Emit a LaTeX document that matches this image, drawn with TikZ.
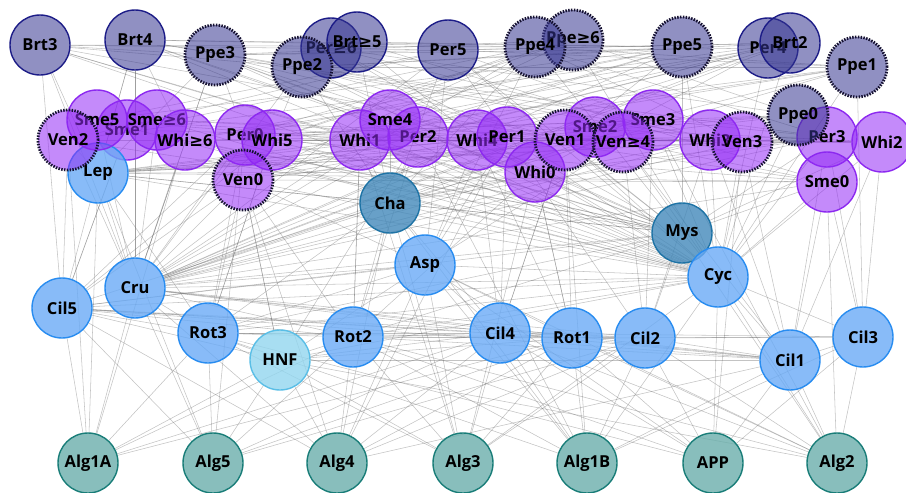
\documentclass[tikz,border=0pt]{standalone}
\usepackage{fontspec}
\setmainfont{Open Sans}
\newfontfamily\symf{DejaVu Sans}
\newcommand\gsym{{\symf ≥}}
\pgfdeclarelayer{bg}
\pgfsetlayers{bg,main}
\definecolor{navyB}{RGB}{28,28,135}
\definecolor{navyF}{RGB}{53,53,144}
\definecolor{purB}{RGB}{140,40,240}
\definecolor{purF}{RGB}{147,42,245}
\definecolor{bluB}{RGB}{40,140,240}
\definecolor{bluF}{RGB}{106,170,246}
\definecolor{steB}{RGB}{30,115,165}
\definecolor{steF}{RGB}{66,136,186}
\definecolor{hnfB}{RGB}{90,190,230}
\definecolor{hnfF}{RGB}{146,214,239}
\definecolor{algB}{RGB}{25,125,120}
\definecolor{algF}{RGB}{106,174,171}
\definecolor{dotC}{RGB}{22,18,50}
\definecolor{edgeC}{RGB}{105,105,105}
\tikzset{
  base/.style={circle,minimum size=60pt,inner sep=0pt,line width=1.4pt,text opacity=1,
    font=\fontsize{16.5}{16.5}\selectfont\bfseries,text=black},
  topn/.style={base,draw=navyB,fill=navyF,fill opacity=0.55},
  purn/.style={base,draw=purB,fill=purF,fill opacity=0.55},
  bluen/.style={base,draw=bluB,fill=bluF,fill opacity=0.8},
  sten/.style={base,draw=steB,fill=steF,fill opacity=0.8},
  hnfn/.style={base,draw=hnfB,fill=hnfF,fill opacity=0.8},
  algn/.style={base,draw=algB,fill=algF,fill opacity=0.8},
  dotb/.style={draw=dotC,line width=2.8pt,dash pattern=on 1.5pt off 1.3pt},
  edg/.style={draw=edgeC,draw opacity=0.4,line width=0.55pt}
}
\begin{document}
\begin{tikzpicture}[x=1pt,y=-1pt]
\useasboundingbox (0,0) rectangle (906,493);
% bottom / middle
\node[algn] (alg1a) at (88,463) {Alg1A};
\node[algn] (alg5) at (213,463) {Alg5};
\node[algn] (alg4) at (337,463) {Alg4};
\node[algn] (alg3) at (463,463) {Alg3};
\node[algn] (alg1b) at (587,463) {Alg1B};
\node[algn] (app) at (713,463) {APP};
\node[algn] (alg2) at (837,463) {Alg2};
\node[bluen] (cil5) at (62,308) {Cil5};
\node[bluen] (cru) at (135,288) {Cru};
\node[bluen] (rot3) at (208,333) {Rot3};
\node[hnfn] (hnf) at (280,360) {HNF};
\node[bluen] (rot2) at (353,337) {Rot2};
\node[bluen] (cil4) at (500,333) {Cil4};
\node[bluen] (rot1) at (572,338) {Rot1};
\node[bluen] (cil2) at (645,338) {Cil2};
\node[bluen] (cil1) at (790,360) {Cil1};
\node[bluen] (cil3) at (863,337) {Cil3};
\node[bluen] (asp) at (425,265) {Asp};
\node[sten] (cha) at (390,203) {Cha};
\node[sten] (mys) at (682,233) {Mys};
\node[bluen] (cyc) at (718,277) {Cyc};
% top row
\node[topn] (brt3) at (40,45) {Brt3};
\node[topn] (brt4) at (135,40) {Brt4};
\node[topn,dotb] (ppe3) at (215,55) {Ppe3};
\node[topn] (perg6) at (331,48) {Per\gsym6};
\node[topn] (brtg5) at (357,42) {Brt\gsym5};
\node[topn,dotb] (ppe2) at (302,67) {Ppe2};
\node[topn] (per5) at (448,50) {Per5};
\node[topn,dotb] (ppeg6) at (573,40) {Ppe\gsym6};
\node[topn,dotb] (ppe4) at (535,47) {Ppe4};
\node[topn,dotb] (ppe5) at (682,47) {Ppe5};
\node[topn] (per4) at (768,48) {Per4};
\node[topn] (brt2) at (790,43) {Brt2};
\node[topn,dotb] (ppe1) at (857,67) {Ppe1};
% purple row
\node[purn] (sme1) at (127,130) {Sme1};
\node[bluen] (lep) at (98,173) {Lep};
\node[purn] (sme5) at (97,120) {Sme5};
\node[purn] (smeg6) at (157,120) {Sme\gsym6};
\node[purn,dotb] (ven2) at (68,140) {Ven2};
\node[purn] (whig6) at (185,140) {Whi\gsym6};
\node[purn] (per0) at (245,135) {Per0};
\node[purn] (whi5) at (272,140) {Whi5};
\node[purn,dotb] (ven0) at (243,180) {Ven0};
\node[purn] (whi1) at (360,140) {Whi1};
\node[purn] (per2) at (418,137) {Per2};
\node[purn] (sme4) at (390,120) {Sme4};
\node[purn] (whi4) at (477,140) {Whi4};
\node[purn] (per1) at (507,137) {Per1};
\node[purn] (whi0) at (535,172) {Whi0};
\node[purn] (sme2) at (595,127) {Sme2};
\node[purn,dotb] (ven1) at (565,140) {Ven1};
\node[purn] (sme3) at (653,120) {Sme3};
\node[purn,dotb] (veng4) at (623,142) {Ven\gsym4};
\node[purn] (whi3) at (710,140) {Whi3};
\node[purn,dotb] (ven3) at (742,142) {Ven3};
\node[purn] (per3) at (827,137) {Per3};
\node[purn] (sme0) at (827,182) {Sme0};
\node[topn,dotb] (ppe0) at (798,115) {Ppe0};
\node[purn] (whi2) at (882,142) {Whi2};
% edges
\begin{pgfonlayer}{bg}
\foreach \b in {brt3,brt4,ppe3,ppe2,per5,ppe4,ppe5,whi1,per2,whi4,per1,whi0,ven1,sme3,whi3,ven3,per3,sme0,cha,mys,cyc,lep,sme5,smeg6,ven2,whig6,per0,ven0,asp,rot2,cil4,rot1,cil2,cil1,alg1a,alg5,alg4,per4,brt2}
  \draw[edg] (cru) -- (\b);
\foreach \b in {brt3,brt4,ppe3,ppe2,perg6,per5,ppe4,ppeg6,ppe5,per4,brt2,ppe1,ppe0,sme5,smeg6,whig6,whi5,ven0,whi1,per2,whi4,per1,ven1,veng4,sme3,whi3,ven3,per3,whi2,sme0,lep,cha,asp,cil5,rot3,cil3,cil1,alg1b,app,alg2,alg3,hnf,rot2}
  \draw[edg] (cyc) -- (\b);
\foreach \b in {brt3,ppe2,ppe3,per5,sme1,whig6,per0,whi5,whi1,sme4,whi4,per1,ven1,ppe5,per3,whi2,sme0,lep,cil5,rot3,rot2,cil2,alg2,ven2,cha}
  \draw[edg] (mys) -- (\b);
\foreach \b in {sme5,ven2,brt3,brt4,ppe3,whi1,per2,whi4,whi0,ven1,ven3,per3,sme0,cha,cil5,rot3,alg1a,alg5,per1,veng4}
  \draw[edg] (lep) -- (\b);
\foreach \b in {brtg5,ppe2,per5,ppe4,sme4,whi1,per2,whi0,ven1,whi3,per3,cil5,rot3,cil4,rot2,asp,alg3,alg1b,alg4,ppe1}
  \draw[edg] (cha) -- (\b);
\foreach \b in {ppe4,per5,whi4,per1,veng4,cil5,rot3,hnf,cil4,alg4,alg3,alg1b,app,alg2,rot1,ven0}
  \draw[edg] (asp) -- (\b);
\foreach \b in {rot3,hnf,rot2,cil4,rot1,cil2,cil1,alg1a,alg5,alg4,per0,ven2,sme1,whi5,ven0}
  \draw[edg] (cil5) -- (\b);
\foreach \b in {ven0,whi5,per0,hnf,rot2,cil4,cil2,alg1a,alg5,alg3,alg1b,app,cru}
  \draw[edg] (rot3) -- (\b);
\foreach \b in {ven0,per2,rot2,cil4,rot1,alg1a,alg5,alg4,alg3,alg2,cil1}
  \draw[edg] (hnf) -- (\b);
\foreach \b in {ven0,whi1,per2,whi0,cil4,rot1,cil2,cil1,alg1a,alg5,alg4,alg3,alg1b,app,alg2}
  \draw[edg] (rot2) -- (\b);
\foreach \b in {per1,whi4,ven1,rot1,cil2,cil1,cil3,alg1a,alg5,alg4,alg3,alg1b,app,alg2}
  \draw[edg] (cil4) -- (\b);
\foreach \b in {ven1,whi0,cil2,cil1,cil3,alg1a,alg5,alg4,alg3,alg1b,app,alg2}
  \draw[edg] (rot1) -- (\b);
\foreach \b in {veng4,sme3,whi3,cil1,cil3,alg5,alg4,alg3,alg1b,app,alg2}
  \draw[edg] (cil2) -- (\b);
\foreach \b in {per3,sme0,cil3,app,alg2,alg1b,alg4,ven3}
  \draw[edg] (cil1) -- (\b);
\foreach \b in {sme0,whi2,alg2,alg1b,app,ppe1}
  \draw[edg] (cil3) -- (\b);
% top web
\foreach \a/\b in {brt3/ppe2,brt3/per5,brt3/ppe4,brt3/whi1,brt3/ppe3,brt4/ppe4,brt4/ppe5,brt4/per2,brt4/ppe2,brt4/whig6,
  ppe3/per4,ppe3/brt2,ppe3/whi4,ppe3/per0,ppe3/ppeg6,ppe2/ppe1,ppe2/ven1,ppe2/whi5,ppe2/ppe5,ppe2/sme3,
  perg6/ppe0,perg6/whi3,perg6/per1,brtg5/ppe5,brtg5/whi4,brtg5/sme0,per5/brt2,per5/whi0,per5/ppe1,per5/whi3,
  ppe4/sme1,ppe4/whi5,ppe4/ven3,ppe4/per3,ppeg6/whi5,ppeg6/whi1,ppeg6/ppe0,ppe5/per0,ppe5/whi1,ppe5/ven1,
  per4/whig6,per4/per2,per4/whi0,brt2/sme4,brt2/whi1,brt2/ppe2,ppe1/per2,ppe1/ven1,ppe1/ppe4,ppe0/whi1,ppe0/whi4,
  ppe0/per0,sme5/whi4,smeg6/per1,smeg6/ven3,whig6/whi3,whig6/per2,per0/whi0,per0/sme3,whi5/ven1,whi5/per3,
  ven0/whi4,ven0/sme0,ven0/ven1,whi1/whi3,per2/ven3,sme4/sme0,whi4/sme3,per1/whi2,whi0/per3,ven1/whi2,
  veng4/sme0,sme3/per3,whi3/whi2,ven3/whi2,ven2/whig6,sme1/per2,sme5/whi1,ppe3/ven1,ppe3/sme4,brt4/ven3,
  per5/sme5,ppe4/ven0,ppe5/whig6,ppe5/sme5,ppe1/whi5,per4/ven0,brt2/ven2,ppe0/ven0,ppeg6/per0,ppe1/whi1,
  brt3/ven1,brt4/whi0,ppe3/whi3,ppe2/per3,per5/ven2,ppe5/ven0,brt2/whi4,sme4/whi2,whi5/sme0,per0/ven3}
  \draw[edg] (\a) -- (\b);
% purple to bottom
\foreach \a/\b in {whi1/alg3,per2/alg1b,whi4/rot1,per1/cil2,ven1/alg1b,whi3/cil1,ven3/app,per3/cil3,sme0/alg2,
  whi5/rot3,per0/alg5,ven0/alg4,whig6/alg1a,sme1/cil5,ven2/alg1a,whi0/alg3,veng4/cil1,sme3/alg2,whi2/cil1,
  brt3/cil5,brt4/lep,brt4/cru,ppe3/cru,ven0/hnf,whi0/rot1,per1/alg4,whi1/rot2,ven1/cil4}
  \draw[edg] (\a) -- (\b);
\end{pgfonlayer}
\end{tikzpicture}
\end{document}
